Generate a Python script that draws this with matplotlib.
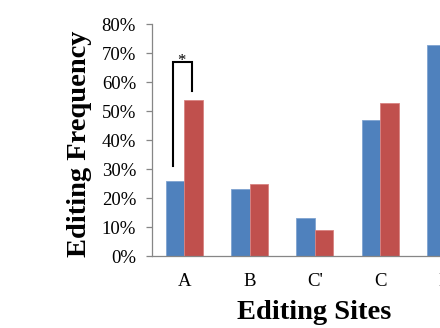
import numpy as np
import matplotlib
matplotlib.use('Agg')
import matplotlib.pyplot as plt
from matplotlib.ticker import PercentFormatter

plt.rcParams['font.family'] = ['Liberation Serif', 'DejaVu Serif']

# editing sites (last one is cut off at the right edge of the figure)
sites = ['A', 'B', "C'", 'C', 'D']
blue_vals = [0.26, 0.23, 0.13, 0.47, 0.73]
red_vals = [0.54, 0.25, 0.09, 0.53]   # red bar of the last site is out of frame
yticks = [0.0, 0.1, 0.2, 0.3, 0.4, 0.5, 0.6, 0.7, 0.8]

blue = '#4F81BD'
red = '#C0504D'
grey = '#868686'

fig = plt.figure(figsize=(4.4, 3.28), dpi=100)
# axes reaches past the right edge, like the cropped reference
ax = fig.add_axes([0.3448, 0.2195, 0.742, 0.7064])

x = np.arange(len(sites))
w = 0.283
ax.bar(x - w / 2, blue_vals, w, color=blue, edgecolor='#7FA3D0', linewidth=0.6)
ax.bar(x[:len(red_vals)] + w / 2, red_vals, w, color=red, edgecolor='#D98381', linewidth=0.6)

ax.set_xlim(-0.5, 4.5)
ax.set_ylim(0, 0.8)
ax.set_yticks(yticks)
ax.yaxis.set_major_formatter(PercentFormatter(xmax=1, decimals=0))
ax.set_xticks(x)
ax.set_xticklabels(sites)

for s in ['top', 'right']:
    ax.spines[s].set_visible(False)
for s in ['left', 'bottom']:
    ax.spines[s].set_color(grey)
    ax.spines[s].set_linewidth(0.9)

ax.tick_params(axis='y', direction='out', length=4.3, width=0.9, color=grey,
               labelsize=13.5, pad=7)
ax.tick_params(axis='x', length=0, labelsize=13.5, pad=12)

# significance bracket for site A
ax.plot([-0.18, -0.18, 0.12, 0.12], [0.31, 0.67, 0.67, 0.57], color='black', lw=1.5,
        solid_joinstyle='miter')
ax.text(-0.04, 0.66, '*', ha='center', va='baseline', fontsize=12)

fig.text(79 / 440, 0.561, 'Editing Frequency', rotation=90, ha='center', va='center',
         fontsize=20.5, fontweight='bold')
fig.text(0.7145, 0.0274, 'Editing Sites', ha='center', va='baseline',
         fontsize=20.5, fontweight='bold')

fig.savefig('out.png', dpi=100)
